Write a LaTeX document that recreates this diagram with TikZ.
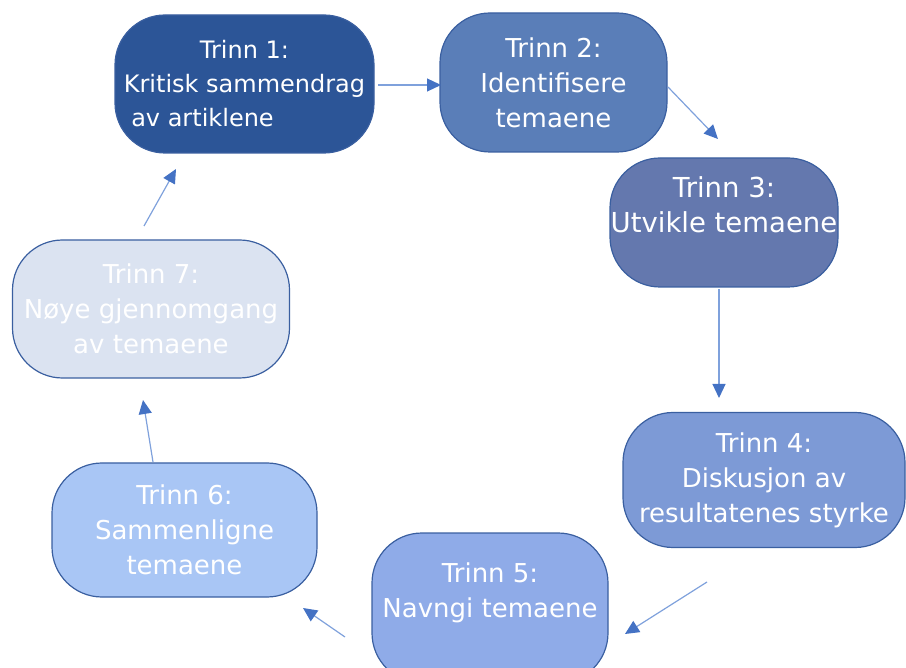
\documentclass[tikz,border=0pt]{standalone}
\usepackage{fontspec}
\setmainfont{DejaVu Sans}
\usepackage{tikz}
\usetikzlibrary{arrows.meta}

\definecolor{trinnA}{HTML}{2C5597}
\definecolor{trinnB}{HTML}{5A7EB8}
\definecolor{trinnC}{HTML}{6478AE}
\definecolor{trinnD}{HTML}{7D9AD6}
\definecolor{trinnE}{HTML}{8FABE8}
\definecolor{trinnF}{HTML}{A9C6F5}
\definecolor{trinnG}{HTML}{DBE3F1}
\definecolor{kant}{HTML}{3A5FA0}
\definecolor{pillinje}{HTML}{7FA1DC}
\definecolor{pilspiss}{HTML}{4472C4}

\tikzset{
  trinn/.style={draw=kant, line width=1.2pt, rounded corners=50pt,
    inner sep=0pt, align=center, text=white,
    font=\fontsize{26}{35}\selectfont},
  pil/.style={draw=pillinje, line width=1.2pt,
    -{Triangle[length=14pt, width=13pt, color=pilspiss]}}
}

\begin{document}
\begin{tikzpicture}[x=1pt, y=-1pt]

\useasboundingbox (0,0) rectangle (906,668);

% Trinnene
\node[trinn, fill=trinnA, minimum width=259pt, minimum height=138pt,
  font=\fontsize{24}{34}\selectfont]
  (t1) at (244.5,84) {Trinn 1:\\Kritisk sammendrag\\av artiklene\hspace*{84pt}};
\node[trinn, fill=trinnB, minimum width=227pt, minimum height=139pt]
  (t2) at (553.5,82.5) {Trinn 2:\\Identifisere\\temaene};
\node[trinn, fill=trinnC, minimum width=228pt, minimum height=129pt,
  font=\fontsize{27.5}{35}\selectfont]
  (t3) at (724,222.5) {Trinn 3:\\Utvikle temaene\\\mbox{}};
\node[trinn, fill=trinnD, minimum width=282pt, minimum height=135pt]
  (t4) at (764,480) {Trinn 4:\\Diskusjon av\\resultatenes styrke};
\node[trinn, fill=trinnE, minimum width=236pt, minimum height=150pt]
  (t5) at (490,608) {Trinn 5:\\Navngi temaene\\\mbox{}};
\node[trinn, fill=trinnF, minimum width=265pt, minimum height=134pt]
  (t6) at (184.5,530) {Trinn 6:\\Sammenligne\\temaene};
\node[trinn, fill=trinnG, minimum width=277pt, minimum height=138pt]
  (t7) at (151,309) {Trinn 7:\\Nøye gjennomgang\\av temaene};

% Pilenes endepunkter
\coordinate (p12a) at (378,85);
\coordinate (p12b) at (441,85);
\coordinate (p23a) at (668,87);
\coordinate (p23b) at (718,139);
\coordinate (p34a) at (719,289);
\coordinate (p34b) at (719,398);
\coordinate (p45a) at (707,582);
\coordinate (p45b) at (625,634);
\coordinate (p56a) at (345,637);
\coordinate (p56b) at (303,608);
\coordinate (p67a) at (153,462);
\coordinate (p67b) at (143,400);
\coordinate (p71a) at (144,226);
\coordinate (p71b) at (176,169);

% Piler
\draw[pil] (p12a) -- (p12b);
\draw[pil] (p23a) -- (p23b);
\draw[pil] (p34a) -- (p34b);
\draw[pil] (p45a) -- (p45b);
\draw[pil] (p56a) -- (p56b);
\draw[pil] (p67a) -- (p67b);
\draw[pil] (p71a) -- (p71b);

\end{tikzpicture}
\end{document}
